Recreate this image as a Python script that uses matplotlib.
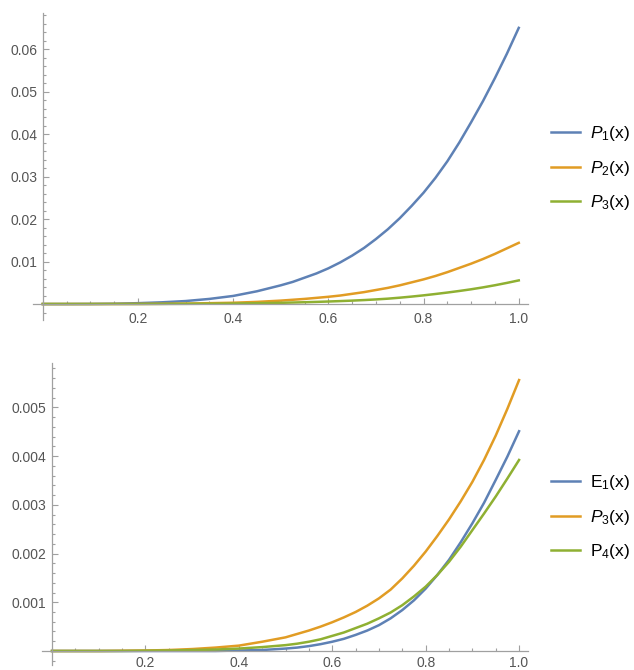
import matplotlib
matplotlib.use("Agg")
import matplotlib.pyplot as plt
from matplotlib.ticker import MultipleLocator, FixedLocator, FixedFormatter

plt.rcParams['font.family'] = ['Liberation Sans', 'DejaVu Sans']
plt.rcParams['mathtext.fontset'] = 'custom'
plt.rcParams['mathtext.rm'] = 'Liberation Sans'
plt.rcParams['mathtext.it'] = 'Liberation Sans:italic'

# values (finer steps where the curves bend)
x = [0.0, 0.05, 0.1, 0.15, 0.2, 0.25, 0.3, 0.35, 0.4, 0.45, 0.5,
     0.525, 0.55, 0.575, 0.6, 0.625, 0.65, 0.675, 0.7, 0.725, 0.75,
     0.775, 0.8, 0.825, 0.85, 0.875, 0.9, 0.925, 0.95, 0.975, 1.0]

p1 = [0.0, 0.0, 0.00002, 0.00007, 0.0002, 0.0004, 0.0007, 0.0012, 0.0019, 0.0030, 0.0044,
      0.0052, 0.0062, 0.0072, 0.0084, 0.0098, 0.0114, 0.0132, 0.0153, 0.0176, 0.0202,
      0.0231, 0.0262, 0.0297, 0.0336, 0.0380, 0.0428, 0.0478, 0.0532, 0.0589, 0.0650]
p2 = [0.0, 0.0, 0.0, 0.00001, 0.00002, 0.00005, 0.0001, 0.0002, 0.0003, 0.0005, 0.0008,
      0.0010, 0.0012, 0.00145, 0.0017, 0.0020, 0.0024, 0.0028, 0.0033, 0.0038, 0.0044,
      0.0051, 0.0058, 0.0066, 0.0075, 0.0085, 0.0095, 0.0106, 0.0118, 0.0131, 0.0144]
p3 = [0.0, 0.0, 0.0, 0.000005, 0.00001, 0.00002, 0.00004, 0.00007, 0.00011, 0.00019, 0.00028,
      0.00035, 0.00042, 0.0005, 0.00059, 0.00069, 0.0008, 0.00093, 0.00108, 0.00126, 0.00149,
      0.00175, 0.00204, 0.00236, 0.0027, 0.00307, 0.00347, 0.00392, 0.00442, 0.00497, 0.00556]
e1 = [0.0, 0.0, 0.0, 0.0, 0.0, 0.0, 0.0, 0.0, 0.00001, 0.00002, 0.00005,
      0.00007, 0.0001, 0.00014, 0.00019, 0.00025, 0.00033, 0.00042, 0.00053, 0.00067, 0.00084,
      0.00104, 0.00128, 0.00156, 0.00187, 0.00223, 0.00262, 0.00304, 0.00351, 0.00399, 0.00451]
p4 = [0.0, 0.0, 0.0, 0.0, 0.000005, 0.00001, 0.00002, 0.00003, 0.00005, 0.00008, 0.00012,
      0.00015, 0.00019, 0.00024, 0.00031, 0.00038, 0.00047, 0.00056, 0.00067, 0.00079, 0.00094,
      0.00112, 0.00132, 0.00156, 0.00183, 0.00214, 0.00248, 0.00282, 0.00317, 0.00354, 0.00392]

x_ticks = [0.2, 0.4, 0.6, 0.8, 1.0]
x_ticklabels = ['0.2', '0.4', '0.6', '0.8', '1.0']
top_yticks = [0.01, 0.02, 0.03, 0.04, 0.05, 0.06]
top_yticklabels = ['0.01', '0.02', '0.03', '0.04', '0.05', '0.06']
bot_yticks = [0.001, 0.002, 0.003, 0.004, 0.005]
bot_yticklabels = ['0.001', '0.002', '0.003', '0.004', '0.005']

top_labels = [r'$P_1$(x)', r'$P_2$(x)', r'$P_3$(x)']
bot_labels = [r'$\mathrm{E}_1$(x)', r'$P_3$(x)', r'$\mathrm{P}_4$(x)']

BLUE = '#5E81B5'
ORANGE = '#E19C24'
GREEN = '#8FB032'
AXIS = '#a0a0a0'
TEXT = '#555555'


def style_axes(ax, yticks, yticklabels, yminor, xpad):
    for side in ['top', 'right']:
        ax.spines[side].set_visible(False)
    ax.spines['left'].set_position(('data', 0))
    ax.spines['bottom'].set_position(('data', 0))
    for side in ['left', 'bottom']:
        ax.spines[side].set_color(AXIS)
        ax.spines[side].set_linewidth(0.9)
    ax.xaxis.set_major_locator(FixedLocator(x_ticks))
    ax.xaxis.set_major_formatter(FixedFormatter(x_ticklabels))
    ax.xaxis.set_minor_locator(MultipleLocator(0.05))
    ax.yaxis.set_major_locator(FixedLocator(yticks))
    ax.yaxis.set_major_formatter(FixedFormatter(yticklabels))
    ax.yaxis.set_minor_locator(MultipleLocator(yminor))
    ax.tick_params(which='both', direction='in', color=AXIS, width=0.8,
                   labelsize=10, labelcolor=TEXT)
    ax.tick_params(which='major', length=4.5)
    ax.tick_params(which='minor', length=2.5)
    ax.tick_params(axis='x', which='major', pad=xpad)
    ax.tick_params(axis='y', which='major', pad=4)


def add_legend(ax, ycenter):
    ax.legend(loc='center left', bbox_to_anchor=(0.869, ycenter), bbox_transform=fig.transFigure,
              frameon=False, fontsize=12.5, handlelength=1.67, handletextpad=0.57,
              labelspacing=0.9, borderpad=0, borderaxespad=0)


fig = plt.figure(figsize=(6.34, 6.70), dpi=100)

# top panel
ax1 = fig.add_axes([0.0517, 0.5224, 0.7808, 0.4582])
ax1.plot(x, p1, color=BLUE, lw=1.8, label=top_labels[0])
ax1.plot(x, p2, color=ORANGE, lw=1.8, label=top_labels[1])
ax1.plot(x, p3, color=GREEN, lw=1.8, label=top_labels[2])
ax1.set_xlim(-0.021, 1.019)
ax1.set_ylim(-0.00376, 0.0685)
style_axes(ax1, top_yticks, top_yticklabels, 0.002, 5.5)
add_legend(ax1, 0.749)

# bottom panel
ax2 = fig.add_axes([0.0666, 0.0075, 0.7661, 0.4507])
ax2.plot(x, e1, color=BLUE, lw=1.8, label=bot_labels[0])
ax2.plot(x, p3, color=ORANGE, lw=1.8, label=bot_labels[1])
ax2.plot(x, p4, color=GREEN, lw=1.8, label=bot_labels[2])
ax2.set_xlim(-0.021, 1.019)
ax2.set_ylim(-0.000287, 0.00591)
style_axes(ax2, bot_yticks, bot_yticklabels, 0.0002, 3.5)
add_legend(ax2, 0.228)

fig.savefig('out.png', dpi=100)
